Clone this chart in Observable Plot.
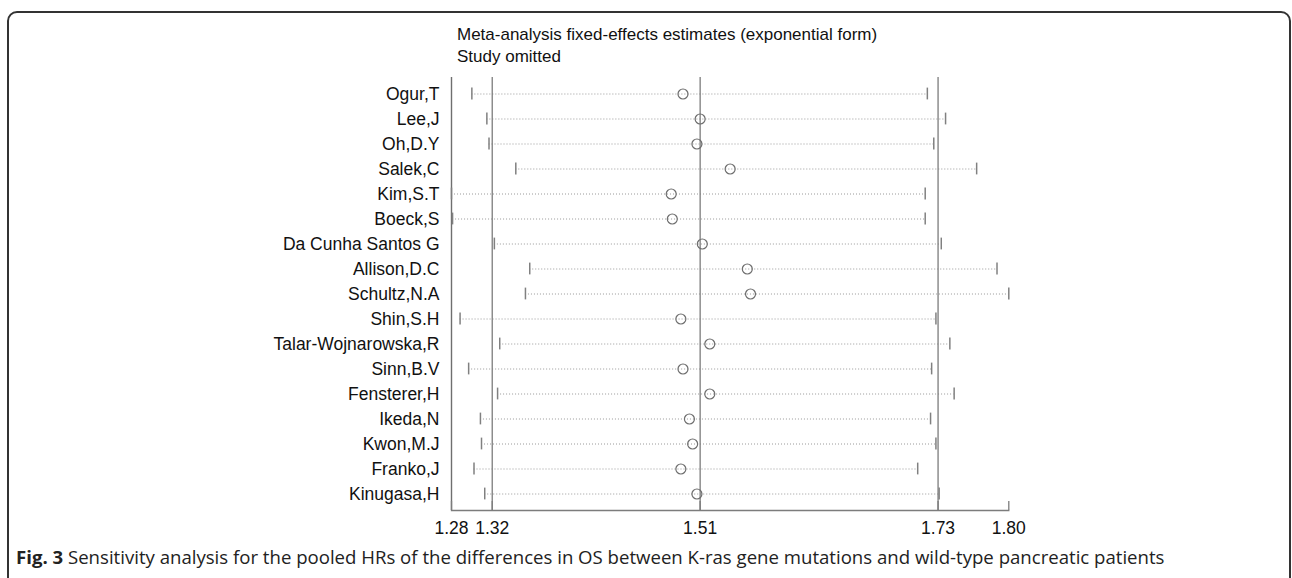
<!DOCTYPE html>
<html><head><meta charset="utf-8">
<script src="https://cdn.jsdelivr.net/npm/d3@7"></script>
<script src="https://cdn.jsdelivr.net/npm/@observablehq/plot@0.6"></script>
<style>
html,body{margin:0;padding:0;background:#fff;overflow:hidden;width:1292px;height:578px;}
#wrap{position:relative;width:1292px;height:578px;overflow:hidden;background:#fff;}
#frame{position:absolute;left:7px;top:11px;width:1284px;height:640px;border:2px solid #333;border-radius:10px;box-sizing:border-box;}
#title{position:absolute;left:457px;top:24px;font-family:"Liberation Sans",Arial,sans-serif;font-size:17px;line-height:22px;color:#111;white-space:nowrap;}
#chart{position:absolute;left:0;top:70px;}
#caption{position:absolute;left:16px;top:545px;font-family:"Open Sans",sans-serif;font-size:18.6px;line-height:24px;color:#222;white-space:nowrap;}
#caption b{font-weight:700;}
</style>
</head><body>
<div id="wrap">
  <div id="frame"></div>
  <div id="title">Meta-analysis fixed-effects estimates (exponential form)<br>Study omitted</div>
  <div id="chart"></div>
  <div id="caption"><b>Fig. 3</b> Sensitivity analysis for the pooled HRs of the differences in OS between K-ras gene mutations and wild-type pancreatic patients</div>
</div>
<script>
const studies = ["Ogur,T","Lee,J","Oh,D.Y","Salek,C","Kim,S.T","Boeck,S","Da Cunha Santos G","Allison,D.C","Schultz,N.A","Shin,S.H","Talar-Wojnarowska,R","Sinn,B.V","Fensterer,H","Ikeda,N","Kwon,M.J","Franko,J","Kinugasa,H"];
const estimate = [1.496,1.512,1.509,1.540,1.485,1.486,1.514,1.556,1.559,1.494,1.521,1.496,1.521,1.502,1.505,1.494,1.509];
const lower    = [1.299,1.313,1.315,1.340,1.280,1.281,1.320,1.353,1.349,1.288,1.325,1.296,1.323,1.307,1.308,1.301,1.311];
const upper    = [1.724,1.741,1.730,1.770,1.722,1.722,1.737,1.789,1.800,1.732,1.745,1.728,1.749,1.727,1.732,1.715,1.735];
const axisMin = 1.28, axisMax = 1.80;
const pooled = [1.318, 1.512, 1.734];
const axisTicks = [1.28, 1.318, 1.512, 1.734, 1.80];
const tickLabels = ["1.28","1.32","1.51","1.73","1.80"];

const rows = studies.map((s,i)=>({study:s, est:estimate[i], lo:lower[i], hi:upper[i]}));
const H = 480, MT = 7, MB = 40;

const plot = Plot.plot({
  width: 1292, height: H,
  marginLeft: 451, marginRight: 283.7, marginTop: MT, marginBottom: MB,
  style: {fontFamily: "'Liberation Sans', Arial, sans-serif", fontSize: "17.5px", color: "#111", background: "transparent", overflow: "visible"},
  x: {domain: [axisMin, axisMax], axis: null},
  y: {type: "band", domain: studies, paddingInner: 0, paddingOuter: 0.056, axis: null},
  marks: [
    Plot.ruleY(rows, {y: "study", x1: "lo", x2: "hi", stroke: "#9a9a9a", strokeWidth: 1, strokeDasharray: "1,2"}),
    Plot.ruleX([axisMin], {x: d => d, stroke: "#6f6f6f", strokeWidth: 1.4}),
    Plot.ruleX(pooled, {x: d => d, stroke: "#7c7c7c", strokeWidth: 1.3}),
    Plot.frame({anchor: "bottom", stroke: "#7c7c7c", strokeWidth: 1.3}),
    Plot.tickX(axisTicks, {x: d => d, stroke: "#7c7c7c", strokeWidth: 1.3, insetTop: (H - MT - MB) - 9}),
    Plot.tickX(rows, {y: "study", x: "lo", stroke: "#808080", strokeWidth: 1.5, insetTop: 6.6, insetBottom: 6.6}),
    Plot.tickX(rows, {y: "study", x: "hi", stroke: "#808080", strokeWidth: 1.5, insetTop: 6.6, insetBottom: 6.6}),
    Plot.dot(rows, {y: "study", x: "est", r: 5, stroke: "#6e6e6e", strokeWidth: 1.2, fill: "none"}),
    Plot.axisY({anchor: "left", tickSize: 0, tickPadding: 12, fontSize: 17.5, fill: "#111", label: null}),
    Plot.axisX(axisTicks, {anchor: "bottom", tickSize: 0, tickPadding: 11, fontSize: 17.5, fill: "#111", label: null,
      tickFormat: d => tickLabels[axisTicks.indexOf(d)]})
  ]
});
document.getElementById("chart").appendChild(plot);
</script>
</body></html>
